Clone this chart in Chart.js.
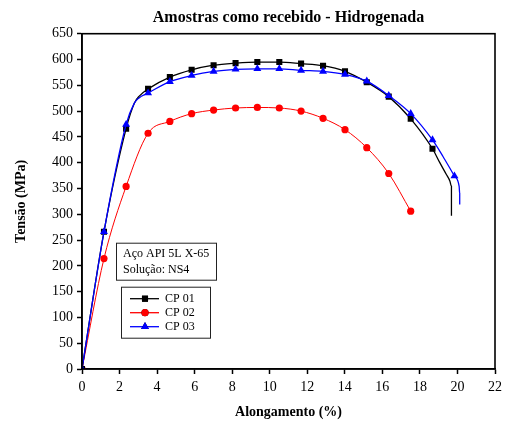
<!DOCTYPE html>
<html>
<head>
<meta charset="utf-8">
<script src="https://cdn.jsdelivr.net/npm/chart.js@4"></script>
<style>
  html, body { margin: 0; padding: 0; background: #fff; }
  #wrap { width: 509px; height: 428px; }
</style>
</head>
<body>
<div id="wrap"><canvas id="grafico" width="509" height="428"></canvas></div>
<script>
// dados
const seriesNames = ["CP 01", "CP 02", "CP 03"];
const xTicks = [0, 2, 4, 6, 8, 10, 12, 14, 16, 18, 20, 22];
const yTicks = [0, 50, 100, 150, 200, 250, 300, 350, 400, 450, 500, 550, 600, 650];
const boxLines = ["Aço API 5L X-65", "Solução: NS4"];

// marcadores (alongamento %, tensão MPa)
const cp01X = [0, 1.17, 2.35, 3.52, 4.68, 5.84, 7.01, 8.18, 9.34, 10.51, 11.67, 12.84, 14.01, 15.17, 16.34, 17.51, 18.67];
const cp01Y = [0, 266, 466, 543, 566, 580, 589, 593, 595, 595, 592, 588, 577, 556, 528, 485, 427];
const cp02X = [0, 1.17, 2.35, 3.52, 4.68, 5.84, 7.01, 8.18, 9.34, 10.51, 11.67, 12.84, 14.01, 15.17, 16.34, 17.51];
const cp02Y = [0, 214, 354, 457, 480, 495, 502, 506, 507, 506, 500, 486, 464, 429, 379, 306];
const cp03X = [0, 1.17, 2.35, 3.52, 4.68, 5.84, 7.01, 8.18, 9.34, 10.51, 11.67, 12.84, 14.01, 15.17, 16.34, 17.51, 18.67, 19.84];
const cp03Y = [0, 266, 474, 535, 557, 569, 577, 581, 582, 582, 579, 577, 571, 558, 530, 495, 444, 374];

// curvas completas (incluem pontos sem marcador: joelho e ruptura)
const cp01CurveX = [0, 1.17, 2.35, 2.8, 3.05, 3.52, 4.68, 5.84, 7.01, 8.18, 9.34, 10.51, 11.67, 12.84, 14.01, 15.17, 16.34, 17.51, 18.67, 19.06, 19.41, 19.6, 19.68, 19.68];
const cp01CurveY = [0, 266, 466, 516, 529, 543, 566, 580, 589, 593, 595, 595, 592, 588, 577, 556, 528, 485, 427, 400, 377, 364, 354, 297];
const cp02CurveX = cp02X;
const cp02CurveY = cp02Y;
const cp03CurveX = [0, 1.17, 2.35, 2.78, 3.02, 3.52, 4.68, 5.84, 7.01, 8.18, 9.34, 10.51, 11.67, 12.84, 14.01, 15.17, 16.34, 17.51, 18.67, 19.23, 19.84, 20.09, 20.12, 20.12];
const cp03CurveY = [0, 266, 474, 515, 525, 535, 557, 569, 577, 581, 582, 582, 579, 577, 571, 558, 530, 495, 444, 412, 374, 354, 340, 319];

const cores = ["#000000", "#ff0000", "#0000ff"];
const estilos = ["rect", "circle", "triangle"];
const raios = [4.3, 3.6, 4.6];
const fonte = "'Liberation Serif', 'Times New Roman', serif";

const pares = (xs, ys) => xs.map((x, i) => ({ x: x, y: ys[i] }));

const curvas = [[cp01CurveX, cp01CurveY], [cp02CurveX, cp02CurveY], [cp03CurveX, cp03CurveY]];
const marcas = [[cp01X, cp01Y], [cp02X, cp02Y], [cp03X, cp03Y]];
const ordem = [2, 4, 0];

const datasets = [];
seriesNames.forEach((nome, i) => {
    datasets.push({
        label: nome,
        data: pares(curvas[i][0], curvas[i][1]),
        borderColor: cores[i],
        borderWidth: i === 1 ? 1 : 1.3,
        pointRadius: 0,
        showLine: true,
        cubicInterpolationMode: "monotone",
        order: ordem[i] + 1
    });
    datasets.push({
        label: nome + " marcadores",
        data: pares(marcas[i][0], marcas[i][1]),
        showLine: false,
        pointStyle: estilos[i],
        pointRadius: raios[i],
        pointBackgroundColor: cores[i],
        pointBorderColor: cores[i],
        pointBorderWidth: 0,
        order: ordem[i]
    });
});

// moldura + caixas de texto e legenda
const extras = {
    id: "extras",
    afterDraw(chart) {
        const c = chart.ctx;
        const a = chart.chartArea;
        c.save();
        c.strokeStyle = "#000";
        c.lineWidth = 1.6;
        c.strokeRect(a.left, a.top, a.right - a.left, a.bottom - a.top);

        // caixa de informação
        const bx = a.left + 34, by = a.top + 209;
        c.lineWidth = 1;
        c.strokeStyle = "#222";
        c.strokeRect(bx + 0.5, by + 0.5, 100, 37);
        c.fillStyle = "#000";
        c.font = "12px " + fonte;
        c.textBaseline = "middle";
        c.textAlign = "left";
        boxLines.forEach((t, i) => c.fillText(t, bx + 7, by + 11 + i * 16));

        // legenda
        const lx = a.left + 39, ly = a.top + 253;
        c.strokeRect(lx + 0.5, ly + 0.5, 89, 51);
        seriesNames.forEach((nome, i) => {
            const yy = ly + 12 + i * 14;
            c.strokeStyle = cores[i];
            c.lineWidth = 1.3;
            c.beginPath();
            c.moveTo(lx + 9, yy);
            c.lineTo(lx + 38, yy);
            c.stroke();
            Chart.helpers.drawPoint(c, { pointStyle: estilos[i], radius: raios[i], borderWidth: 0 }, lx + 24, yy);
            c.fillStyle = cores[i];
            c.fill();
            c.fillStyle = "#000";
            c.fillText(nome, lx + 44, yy);
        });
        c.restore();
    }
};

const ctx = document.getElementById("grafico").getContext("2d");
const grafico = new Chart(ctx, {
    type: "scatter",
    data: { datasets: datasets },
    plugins: [extras],
    options: {
        responsive: false,
        animation: false,
        layout: { padding: { left: 0, right: 14, top: 0, bottom: 0 } },
        plugins: {
            legend: { display: false },
            tooltip: { enabled: false },
            title: {
                display: true,
                text: "Amostras como recebido - Hidrogenada",
                fullSize: false,
                color: "#000",
                font: { family: fonte, size: 16, weight: "bold" },
                padding: { top: 8.5, bottom: 6 }
            }
        },
        scales: {
            x: {
                type: "linear",
                min: 0,
                max: 22,
                afterBuildTicks: s => { s.ticks = xTicks.map(v => ({ value: v })); },
                afterFit: s => { s.height = 59; },
                ticks: { color: "#000", font: { family: fonte, size: 14 }, padding: 5, maxRotation: 0 },
                grid: { drawOnChartArea: false, drawTicks: true, tickLength: 5, tickColor: "#000", tickWidth: 1.5 },
                border: { display: true, color: "#000", width: 1.6 },
                title: {
                    display: true,
                    text: "Alongamento (%)",
                    color: "#000",
                    font: { family: fonte, size: 14, weight: "bold" },
                    padding: { top: 0, bottom: 7.5 }
                }
            },
            y: {
                type: "linear",
                min: 0,
                max: 650,
                afterBuildTicks: s => { s.ticks = yTicks.map(v => ({ value: v })); },
                afterFit: s => { s.width = 82; },
                ticks: { color: "#000", font: { family: fonte, size: 14 }, padding: 4 },
                grid: { drawOnChartArea: false, drawTicks: true, tickLength: 5, tickColor: "#000", tickWidth: 1.5 },
                border: { display: true, color: "#000", width: 1.6 },
                title: {
                    display: true,
                    text: "Tensão (MPa)",
                    color: "#000",
                    font: { family: fonte, size: 14, weight: "bold" },
                    padding: { top: 13, bottom: 0 }
                }
            }
        }
    }
});
</script>
</body>
</html>
